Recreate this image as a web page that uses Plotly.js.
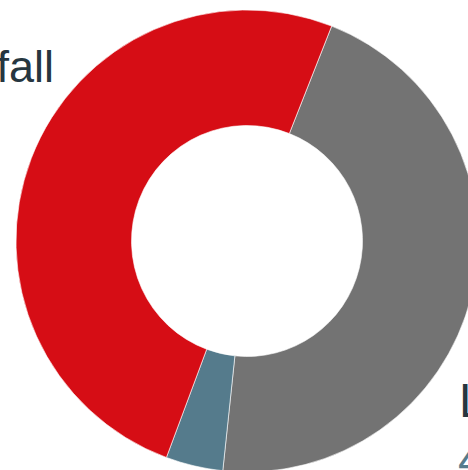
<!DOCTYPE html>
<html>
<head>
<meta charset="utf-8">
<script src="https://cdn.plot.ly/plotly-3.0.1.min.js"></script>
<style>
html,body{margin:0;padding:0;overflow:hidden;background:#fff;width:468px;height:470px;}
#chart{width:500px;height:500px;}
</style>
</head>
<body>
<div id="chart"></div>
<script>
var labels = ["Loss", "Runoff", "Rainfall"];
var values = [45.7, 4.0, 50.3];
var colors = ["#737373", "#557B8C", "#D60D15"];

var trace = {
  type: "pie",
  labels: labels,
  values: values,
  hole: 0.5,
  sort: false,
  direction: "clockwise",
  rotation: 21.5,
  textinfo: "none",
  hoverinfo: "label+percent",
  marker: {colors: colors, line: {color: "#ffffff", width: 0.6}},
  showlegend: false
};

var pct = values.map(function(v){ return v.toFixed(1) + "%"; });

function px(x){ return (x - 16) / 462; }
function py(y){ return 1 - (y - 10) / 462; }

var layout = {
  width: 500,
  height: 500,
  margin: {l: 16, r: 22, t: 10, b: 28, pad: 0},
  paper_bgcolor: "#ffffff",
  plot_bgcolor: "#ffffff",
  showlegend: false,
  font: {family: "Liberation Sans, Arial, sans-serif", color: "#263640"},
  annotations: [
    {
      xref: "paper", yref: "paper",
      x: px(56), y: py(66),
      xanchor: "right", yanchor: "middle",
      text: labels[2],
      showarrow: false,
      font: {size: 45, color: "#263640"}
    },
    {
      xref: "paper", yref: "paper",
      x: px(457), y: py(372),
      xanchor: "left", yanchor: "top",
      align: "left",
      text: labels[0],
      showarrow: false,
      font: {size: 48, color: "#263640"}
    },
    {
      xref: "paper", yref: "paper",
      x: px(456), y: py(431),
      xanchor: "left", yanchor: "top",
      align: "left",
      text: pct[0],
      showarrow: false,
      font: {size: 48, color: "#557B8C"}
    }
  ]
};

Plotly.newPlot("chart", [trace], layout, {displayModeBar: false, staticPlot: true});
</script>
</body>
</html>
